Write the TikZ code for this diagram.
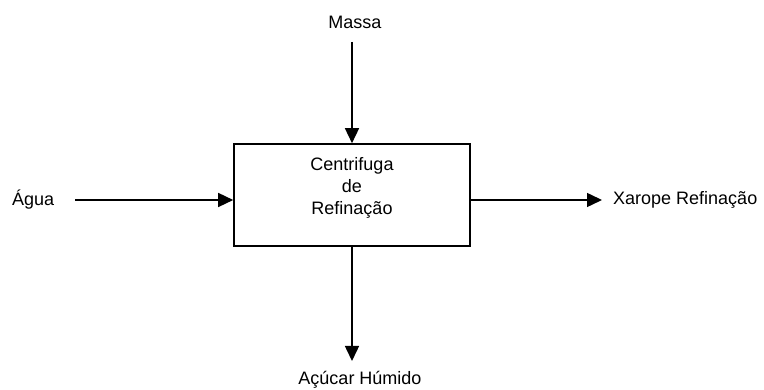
\documentclass[tikz,border=0pt]{standalone}
\usepackage{fontspec}
\setmainfont{Liberation Sans}
\usetikzlibrary{arrows.meta}
\begin{document}
\begin{tikzpicture}[x=1pt,y=-1pt,
  lbl/.style={font=\fontsize{18}{22}\selectfont, inner sep=0pt},
  unit/.style={draw, line width=1.6pt, minimum width=236pt, minimum height=102pt, inner sep=0pt},
  flow/.style={line width=1.5pt, -{Triangle[length=15pt,width=14pt]}}]
  \useasboundingbox (0,0) rectangle (764,390);
  % process unit
  \node[unit] (box) at (352,195) {};
  \node[lbl, align=center] (title) at (352,188) {Centrifuga\\de\\Refinação};
  % stream labels
  \node[lbl] (massa) at (355,22) {Massa};
  \node[lbl, anchor=west] (agua) at (12,200) {Água};
  \node[lbl, anchor=west] (xarope) at (613,200) {Xarope Refinação};
  \node[lbl] (acucar) at (360,380) {Açúcar Húmido};
  % free ends of the streams
  \coordinate (inTop) at (352,42);
  \coordinate (inLeft) at (75,200);
  \coordinate (outRight) at (602,200);
  \coordinate (outBottom) at (352,361);
  % streams
  \draw[flow] (inTop) -- (box.north);
  \draw[flow] (inLeft) -- (box.west |- inLeft);
  \draw[flow] (box.east |- outRight) -- (outRight);
  \draw[flow] (box.south) -- (outBottom);
\end{tikzpicture}
\end{document}
